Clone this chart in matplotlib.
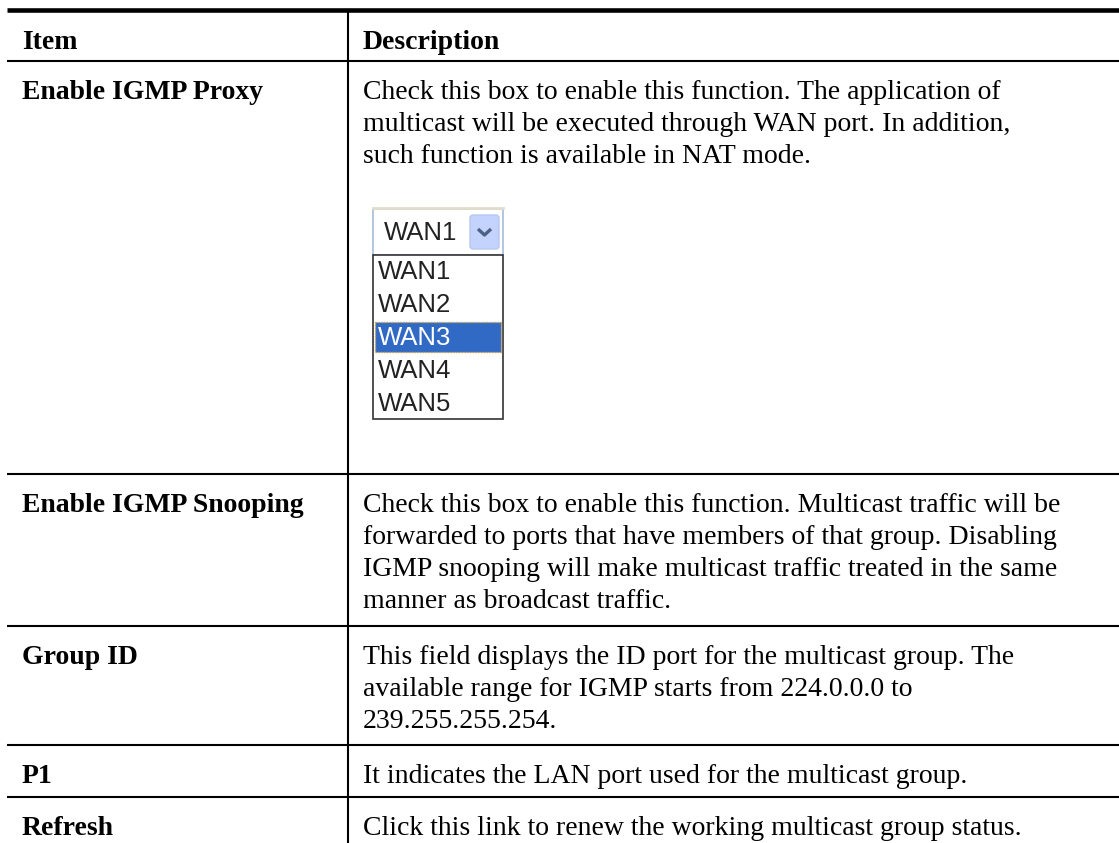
import matplotlib.pyplot as plt
from matplotlib.patches import Rectangle, FancyBboxPatch

# table content
headers = ["Item", "Description"]
items = ["Enable IGMP Proxy", "Enable IGMP Snooping", "Group ID", "P1", "Refresh"]
descriptions = [
    ["Check this box to enable this function. The application of",
     "multicast will be executed through WAN port. In addition,",
     "such function is available in NAT mode."],
    ["Check this box to enable this function. Multicast traffic will be",
     "forwarded to ports that have members of that group. Disabling",
     "IGMP snooping will make multicast traffic treated in the same",
     "manner as broadcast traffic."],
    ["This field displays the ID port for the multicast group. The",
     "available range for IGMP starts from 224.0.0.0 to",
     "239.255.255.254."],
    ["It indicates the LAN port used for the multicast group."],
    ["Click this link to renew the working multicast group status."],
]
wan_options = ["WAN1", "WAN2", "WAN3", "WAN4", "WAN5"]
selected = "WAN1"
highlighted = "WAN3"

W, H = 1119, 843
fig = plt.figure(figsize=(W / 100, H / 100), dpi=100)
ax = fig.add_axes([0, 0, 1, 1])
ax.set_xlim(0, W)
ax.set_ylim(H, 0)
ax.axis("off")

serif = "Liberation Serif"
fs = 20
line_h = 32
x_left = 7
x_div = 348
pad = 15

# row boundaries
header_h = 51
row_h = [413, 152, 119, 52]
tops = [10, 10 + header_h]
for h in row_h:
    tops.append(tops[-1] + h)

# horizontal rules
ax.plot([x_left, W], [tops[0], tops[0]], color="black", lw=3.3, solid_capstyle="butt")
for y in tops[1:]:
    ax.plot([x_left, W], [y, y], color="black", lw=1.5, solid_capstyle="butt")
ax.plot([x_div, x_div], [tops[0], H], color="black", lw=1.5)

# header
ax.text(x_left + pad, tops[0] + 39, headers[0], family=serif, weight="bold", fontsize=fs, va="baseline")
ax.text(x_div + pad, tops[0] + 39, headers[1], family=serif, weight="bold", fontsize=fs, va="baseline")

# rows
for i, (item, desc) in enumerate(zip(items, descriptions)):
    y0 = tops[i + 1] + 38
    ax.text(x_left + pad, y0, item, family=serif, weight="bold", fontsize=fs, va="baseline")
    for j, line in enumerate(desc):
        ax.text(x_div + pad, y0 + j * line_h, line, family=serif, fontsize=fs, va="baseline")

# dropdown widget in the first row
sans = "Liberation Sans"
bx, by, bw, bh = 373, 209, 130, 46
ax.plot([bx, bx + bw], [by - 1, by - 1], color="#e2dccb", lw=2)
ax.add_patch(Rectangle((bx, by), bw, bh, facecolor="white", edgecolor="#a5bcd9", lw=1.2))
ax.text(bx + 11, by + bh / 2 + 1, selected, family=sans, fontsize=18.5, va="center", color="#222222")
ax.add_patch(FancyBboxPatch((bx + 97, by + 6), 29, 34, boxstyle="round,pad=0,rounding_size=3",
                            facecolor="#c3d3fd", edgecolor="#b5c8f0", lw=1))
ax.plot([bx + 105, bx + 111.5, bx + 118], [by + 20, by + 26, by + 20], color="#4d6185", lw=2.4,
        solid_capstyle="butt")

item_h = 32.8
ly = by + bh
ax.add_patch(Rectangle((bx, ly), bw, item_h * len(wan_options), facecolor="white",
                       edgecolor="#333333", lw=1.2))
for k, opt in enumerate(wan_options):
    yy = ly + k * item_h
    tc = "#222222"
    if opt == highlighted:
        ax.add_patch(Rectangle((bx + 2, yy + 1), bw - 4, item_h - 2, facecolor="#316ac5",
                               edgecolor="#c8a24a", lw=1, linestyle=(0, (1, 1))))
        tc = "white"
    ax.text(bx + 5, yy + item_h / 2 + 1, opt, family=sans, fontsize=18.5, va="center", color=tc)

fig.savefig("out.png", dpi=100)
